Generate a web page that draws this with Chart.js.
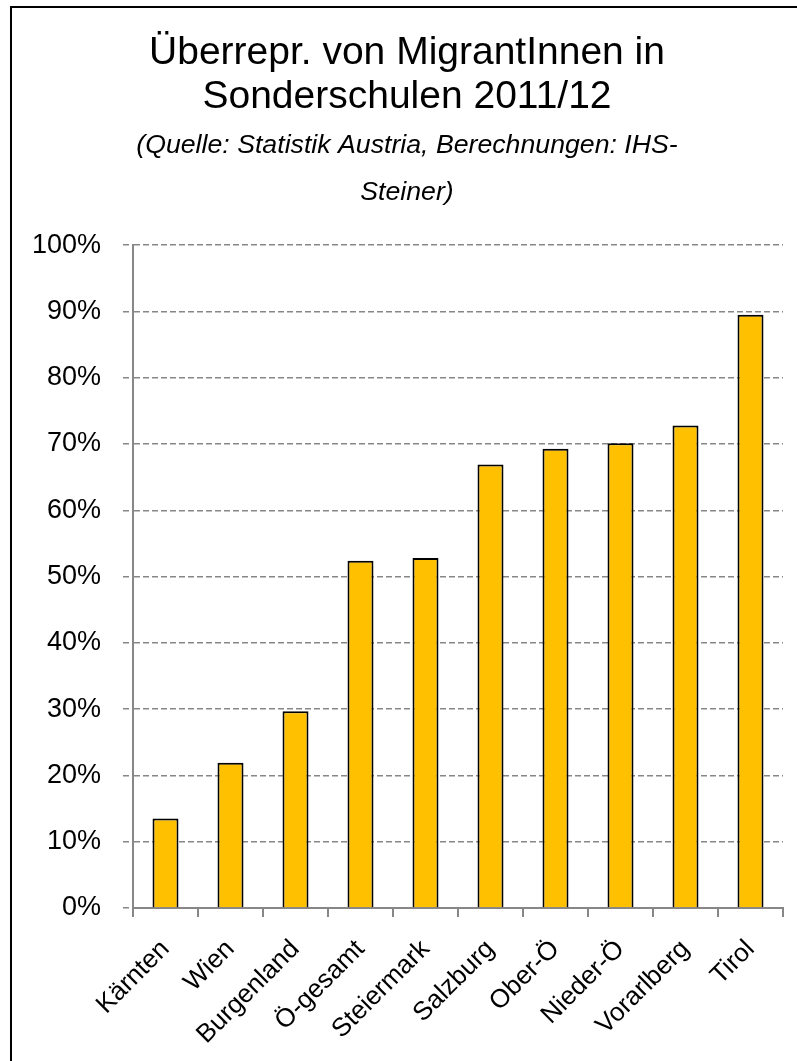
<!DOCTYPE html>
<html>
<head>
<meta charset="utf-8">
<script src="https://cdn.jsdelivr.net/npm/chart.js@4/dist/chart.umd.min.js"></script>
<style>
  html, body { margin: 0; padding: 0; background: #fff; }
  #wrap { position: relative; width: 797px; height: 1061px; overflow: hidden; }
  #frame {
    position: absolute; left: 10px; top: 6px; width: 900px; height: 1200px;
    border-left: 2px solid #000; border-top: 2px solid #000;
  }
  #chart { position: absolute; left: 0; top: 0; }
</style>
</head>
<body>
<div id="wrap">
  <div id="frame"></div>
  <canvas id="chart" width="797" height="1061"></canvas>
</div>
<script>
const titleLines = ['Überrepr. von MigrantInnen in', 'Sonderschulen 2011/12'];
const subtitleLines = ['(Quelle: Statistik Austria, Berechnungen: IHS-', 'Steiner)'];
const regions = ['Kärnten', 'Wien', 'Burgenland', 'Ö-gesamt', 'Steiermark',
                 'Salzburg', 'Ober-Ö', 'Nieder-Ö', 'Vorarlberg', 'Tirol'];
const overrep = [13.5, 21.9, 29.7, 52.4, 52.8, 66.9, 69.3, 70.1, 72.8, 89.5];

const fontFamily = "'Liberation Sans', Arial, sans-serif";
const gray = '#878787';

const ctx = document.getElementById('chart').getContext('2d');
new Chart(ctx, {
    type: 'bar',
    data: {
        labels: regions,
        datasets: [{
            data: overrep,
            backgroundColor: '#FFC000',
            borderColor: '#000',
            borderWidth: 2,
            barPercentage: 0.4,
            categoryPercentage: 1.0
        }]
    },
    options: {
        responsive: false,
        animation: false,
        // left padding nudges the title block right like the original;
        // y-axis labels are clipped to the scale box, so it can't go further
        layout: { padding: { left: 31, right: 14, top: 0, bottom: 0 } },
        plugins: {
            legend: { display: false },
            tooltip: { enabled: false },
            title: {
                display: true,
                text: titleLines,
                color: '#000',
                font: { family: fontFamily, size: 39, weight: 'normal', lineHeight: 1.13 },
                padding: { top: 31, bottom: 0 }
            },
            subtitle: {
                display: true,
                text: subtitleLines,
                color: '#000',
                font: { family: fontFamily, size: 26.7, style: 'italic', lineHeight: 1.76 },
                padding: { top: 3, bottom: 29 }
            }
        },
        scales: {
            x: {
                border: { color: gray, width: 2 },
                grid: {
                    display: true,
                    drawOnChartArea: false,
                    drawTicks: true,
                    tickLength: 9,
                    color: gray,
                    lineWidth: 2
                },
                ticks: {
                    color: '#000',
                    font: { family: fontFamily, size: 26 },
                    minRotation: 45,
                    maxRotation: 45,
                    autoSkip: false,
                    padding: 17
                },
                afterFit: (scale) => { scale.height = 153; }
            },
            y: {
                min: 0,
                max: 100,
                // in Chart.js v4 border.dash styles the grid lines
                border: { color: gray, width: 2, dash: [6, 3] },
                grid: {
                    color: gray,
                    lineWidth: 1.5,
                    tickLength: 10,
                    tickColor: gray,
                    tickBorderDash: [6, 3]
                },
                ticks: {
                    stepSize: 10,
                    color: '#000',
                    font: { family: fontFamily, size: 27 },
                    padding: 22,
                    callback: (v) => v + '%'
                },
                afterFit: (scale) => { scale.width = 102; }
            }
        }
    }
});
</script>
</body>
</html>
